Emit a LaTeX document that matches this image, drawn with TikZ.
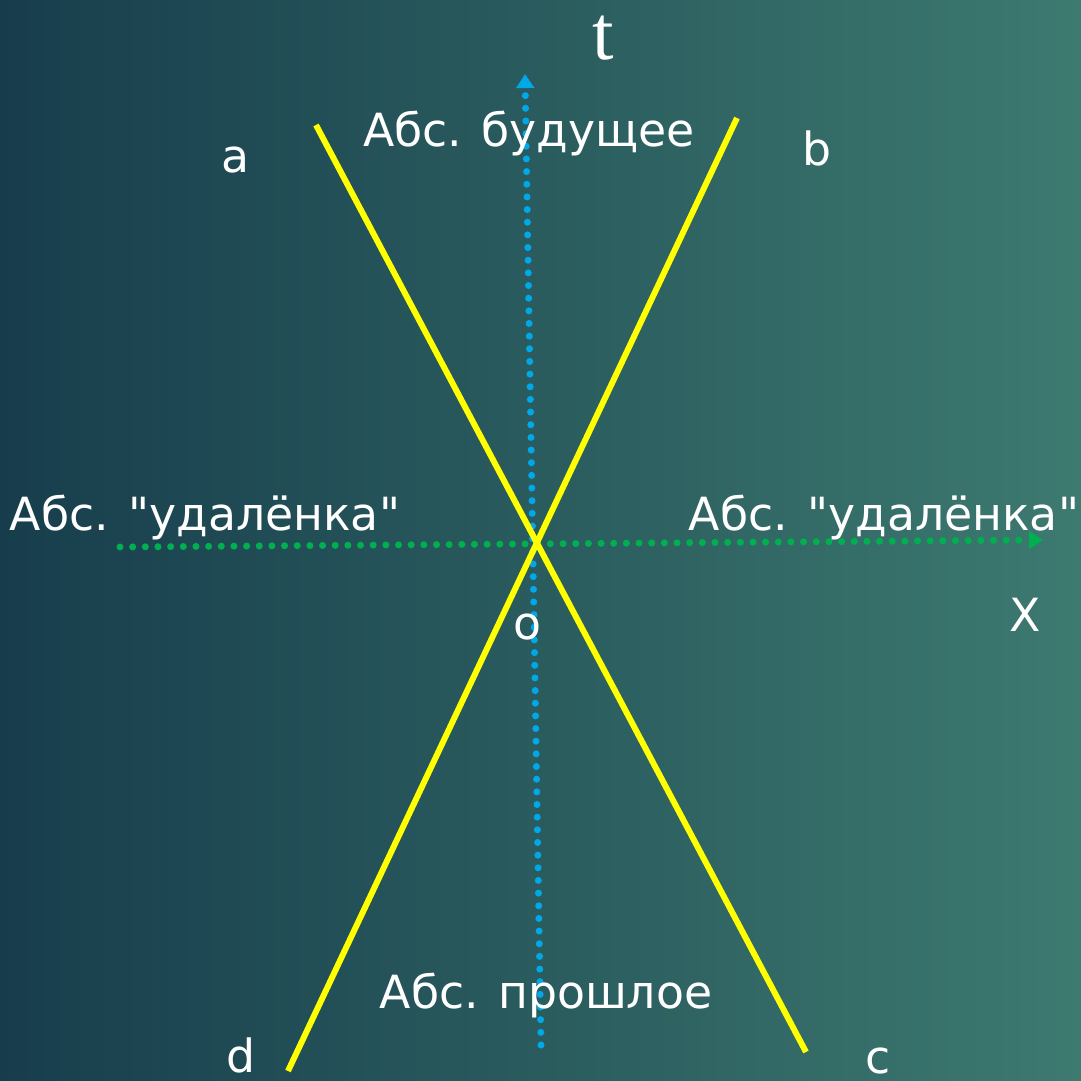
\documentclass[tikz,border=0pt]{standalone}
\usepackage{fontspec}
\setmainfont{DejaVu Sans}
\newfontfamily\serifletter{Liberation Serif}
\usetikzlibrary{arrows.meta}
\definecolor{bgdark}{HTML}{173D4C}
\definecolor{bglight}{HTML}{3D7A70}
\definecolor{coneyellow}{HTML}{FFFF00}
\definecolor{taxis}{HTML}{00A8E8}
\definecolor{xaxis}{HTML}{00B050}
\tikzset{
	lbl/.style={text=white,font=\fontsize{13}{15}\selectfont,inner sep=0pt},
	cone/.style={coneyellow,line width=1.7pt},
	dotline/.style={line width=2pt,line cap=round,dash pattern=on 0pt off 3.6pt},
}
\begin{document}
\begin{tikzpicture}[x=0.01cm,y=-0.01cm]
	\shade[left color=bgdark,right color=bglight] (0,0) rectangle (1081,1081);
	\useasboundingbox (0,0) rectangle (1081,1081);
	% axes
	\coordinate (tlow) at (541,1045);
	\coordinate (ttop) at (525,74);
	\coordinate (xleft) at (120,547);
	\coordinate (xright) at (1043,540);
	\draw[taxis,dotline,-{Triangle[width=5pt,length=4pt]}] (tlow) -- (ttop);
	\draw[xaxis,dotline,-{Triangle[width=5pt,length=4pt]}] (xleft) -- (xright);
	% light cone
	\coordinate (a) at (316,125);
	\coordinate (c) at (806,1052);
	\coordinate (b) at (737,118);
	\coordinate (d) at (288,1071);
	\draw[cone] (a) -- (c);
	\draw[cone] (b) -- (d);
	% labels
	\node[lbl,font=\serifletter\fontsize{22}{24}\selectfont] (tlab) at (603,38) {t};
	\node[lbl] (alab) at (236,160) {a};
	\node[lbl] (blab) at (817,148) {b};
	\node[lbl] (clab) at (878,1061) {c};
	\node[lbl] (dlab) at (241,1055) {d};
	\node[lbl] (olab) at (527,627) {o};
	\node[lbl] (xlab) at (1025,615) {X};
	\node[lbl] (future) at (529,133) {Абс. будущее};
	\node[lbl] (past) at (546,995) {Абс. прошлое};
	\node[lbl] (remleft) at (205,517) {Абс. \textquotedbl удалёнка\textquotedbl};
	\node[lbl] (remright) at (884,517) {Абс. \textquotedbl удалёнка\textquotedbl};
\end{tikzpicture}
\end{document}
